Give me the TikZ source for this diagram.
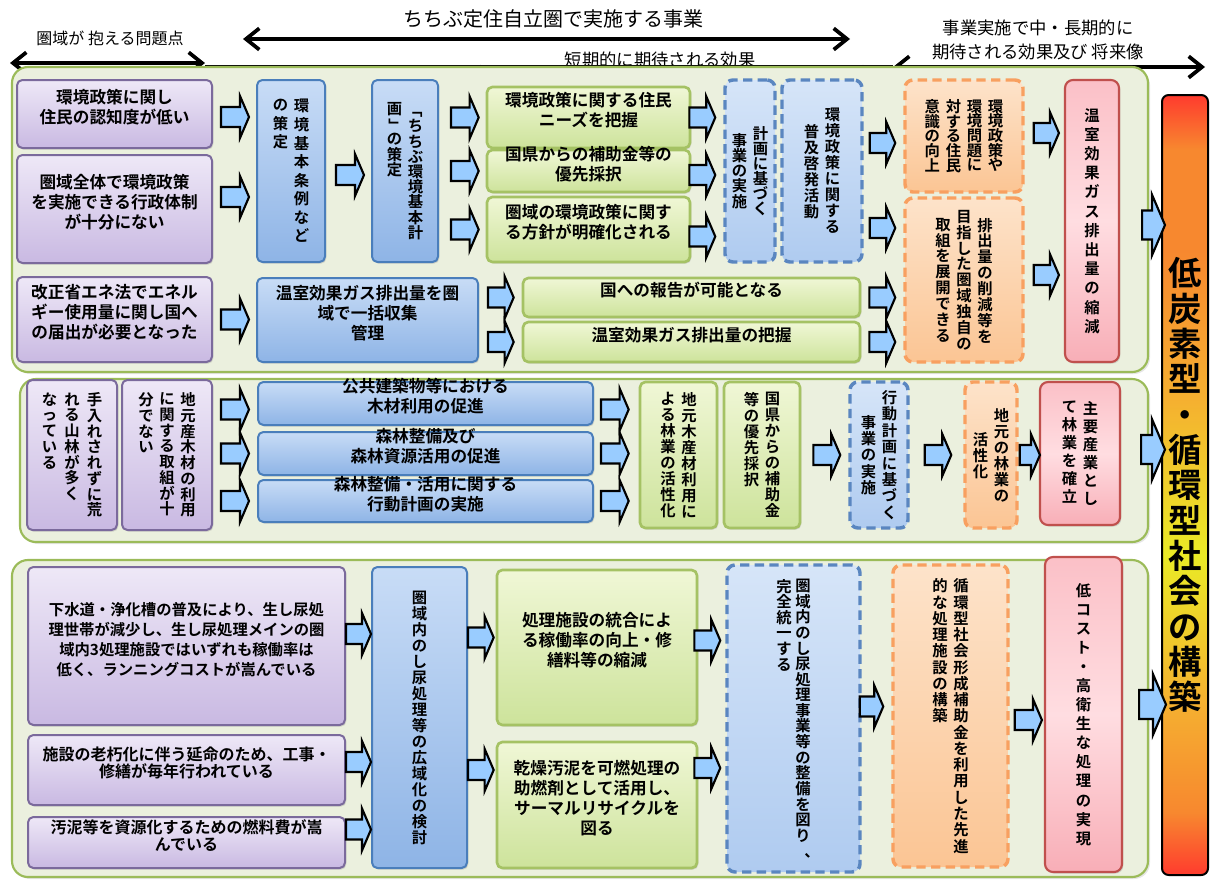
\documentclass[tikz,border=0pt]{standalone}
\usepackage{fontspec}
\usepackage{graphicx}
\setmainfont{Noto Sans CJK JP}[BoldFont={* Bold}]
\usetikzlibrary{arrows.meta,calc,fit,shadows}

\definecolor{panelfill}{HTML}{EBF0DE}\definecolor{panelline}{HTML}{9BBB59}
\definecolor{ptop}{HTML}{EEE8F7}\definecolor{pbot}{HTML}{C9B9E2}\definecolor{pline}{HTML}{7B6A9C}
\definecolor{btop}{HTML}{C8DCF6}\definecolor{bbot}{HTML}{8EB4E6}\definecolor{bline}{HTML}{4A7EBB}
\definecolor{gtop}{HTML}{F0F7D6}\definecolor{gbot}{HTML}{CDE39B}\definecolor{gline}{HTML}{A5C264}
\definecolor{dtop}{HTML}{D6E5F8}\definecolor{dbot}{HTML}{AFCBF0}\definecolor{dline}{HTML}{5A86C0}
\definecolor{otop}{HTML}{FDE3CA}\definecolor{obot}{HTML}{FBC594}\definecolor{oline}{HTML}{F8A060}
\definecolor{rtop}{HTML}{FBC0C7}\definecolor{rmid}{HTML}{FFDDE1}\definecolor{rbot}{HTML}{F8AEB7}\definecolor{rline}{HTML}{C0504D}
\definecolor{arrowblue}{HTML}{99CCFF}
\definecolor{barred}{HTML}{FF3B2E}\definecolor{barorg}{HTML}{F7882F}
\definecolor{barlt}{HTML}{F5B030}\definecolor{baryel}{HTML}{EAEA26}
\pgfdeclareverticalshading{barshade}{100bp}{color(0bp)=(barred); color(25bp)=(barred);
  color(29bp)=(barorg); color(36bp)=(barlt); color(45.5bp)=(baryel); color(55.5bp)=(barlt);
  color(65bp)=(barorg); color(71.5bp)=(barorg); color(75bp)=(barred); color(100bp)=(barred)}

\ExplSyntaxOn
\seq_new:N \l__tate_in_seq
\seq_new:N \l__tate_out_seq
\int_new:N \l__tate_max_int
\cs_new_protected:Npn \__tate_char:n #1
 {
  \str_case:nnF {#1}
   {
    {「} { \hbox_to_wd:nn {1em} { \hss \rotatebox[origin=c]{-90}{「} \hss } }
    {」} { \hbox_to_wd:nn {1em} { \hss \rotatebox[origin=c]{-90}{」} \hss } }
    {、} { \hbox_to_wd:nn {1em} { \hss \rotatebox[origin=c]{180}{、} \hss } }
   }
   { \hbox_to_wd:nn {1em} { \hss #1 \hss } }
 }
\cs_new_protected:Npn \__tate_col:nn #1#2
 {
  \vtop
   {
    \skip_set:Nn \baselineskip { \tatepitch }
    \dim_set:Nn \lineskiplimit { -\c_max_dim }
    \str_if_eq:nnTF {#1} {c}
     { \kern \dim_eval:n { \tatepitch * ( \l__tate_max_int - \tl_count:n {#2} ) / 2 } }
     { \kern 0pt }
    \tl_map_inline:nn {#2} { \__tate_char:n {##1} }
   }
 }
\NewDocumentCommand \vtate { O{t} m }
 {
  \seq_set_from_clist:Nn \l__tate_in_seq {#2}
  \seq_clear:N \l__tate_out_seq
  \int_zero:N \l__tate_max_int
  \seq_map_inline:Nn \l__tate_in_seq
   {
    \int_set:Nn \l__tate_max_int { \int_max:nn { \l__tate_max_int } { \tl_count:n {##1} } }
    \seq_put_left:Nn \l__tate_out_seq { \__tate_col:nn {#1} {##1} }
   }
  \hbox:n { \seq_use:Nn \l__tate_out_seq { \hskip \tategap \relax } }
 }
\ExplSyntaxOff
\newcommand\tatepitch{12pt}
\newcommand\tategap{4.3pt}

\tikzset{
  cell/.style={rounded corners=4pt,inner sep=0pt,align=center,font=\bfseries\fontsize{12.5}{15}\selectfont},
  vt/.style={font=\bfseries\fontsize{11.5}{14}\selectfont},
  vpitch/.code={\def\tatepitch{#1}},
  vgap/.code={\def\tategap{#1}},
  soft/.style={drop shadow={opacity=.28,shadow xshift=1pt,shadow yshift=-1.2pt}},
  pbox/.style={cell,soft,draw=pline,line width=1.5pt,top color=ptop,bottom color=pbot},
  bbox/.style={cell,soft,draw=bline,line width=1.5pt,top color=btop,bottom color=bbot},
  gbox/.style={cell,soft,draw=gline,line width=2pt,top color=gtop,bottom color=gbot},
  dbox/.style={cell,vt,draw=dline,line width=2.6pt,dash pattern=on 7pt off 4pt,top color=dtop,bottom color=dbot,rounded corners=6pt},
  obox/.style={cell,vt,draw=oline,line width=2.6pt,dash pattern=on 7pt off 4pt,top color=otop,bottom color=obot,rounded corners=6pt},
  rbox/.style={cell,vt,soft,draw=rline,line width=1.6pt,top color=rtop,bottom color=rbot,middle color=rmid,rounded corners=6pt},
  barbox/.style={cell,draw=black,line width=1.5pt,shading=barshade,rounded corners=5pt,font=\bfseries\fontsize{25}{30}\selectfont,vpitch=26.5pt},
  panel/.style={draw=panelline,line width=1.6pt,fill=panelfill,rounded corners=12pt,drop shadow={opacity=.2,shadow xshift=1.5pt,shadow yshift=-1.5pt}},
  barrow/.style={draw=black,fill=arrowblue,line width=1.6pt,line join=miter},
  hdr/.style={line width=2.8pt,{Straight Barb[length=10pt,width=16pt]}-{Straight Barb[length=10pt,width=16pt]}},
}
% block arrow: tail, tip (y taken from the tail)
\newcommand\barr[3][1]{\path[barrow] let \p1=(#2), \p2=(#3) in
  (\x1,{\y1+7.5pt*#1}) -- ({\x2-6.75pt*#1},{\y1+7.5pt*#1}) -- ({\x2-6.75pt*#1},{\y1+15.75pt*#1}) -- (\x2,\y1)
  -- ({\x2-6.75pt*#1},{\y1-15.75pt*#1}) -- ({\x2-6.75pt*#1},{\y1-7.5pt*#1}) -- (\x1,{\y1-7.5pt*#1}) -- cycle;}

\begin{document}
\begin{tikzpicture}[x=0.75pt,y=-0.75pt,line join=round]
\useasboundingbox (0,0) rectangle (1210,879);
% headings
\node[font=\fontsize{12}{14}\selectfont] (tProb) at (110,38) {圏域が 抱える問題点};
\draw[hdr] (10,63) coordinate (probL) -- (205,63) coordinate (probR);
\node[font=\fontsize{15}{18}\selectfont] (tJig) at (553,19) {ちちぶ定住自立圏で実施する事業};
\draw[hdr] (243,39) coordinate (jigL) -- (850,39) coordinate (jigR);
\draw[line width=1.5pt] (probR|-0,66) -- (893,66);
\node[font=\fontsize{13}{15}\selectfont] (tShort) at (660,60) {短期的に期待される効果};
\draw[hdr] (465,77) coordinate (shortL) -- (878,77) coordinate (shortR);
\node[font=\fontsize{13}{17.5}\selectfont,align=center] (tLong) at (1038,40) {事業実施で中・長期的に\\期待される効果及び 将来像};
\draw[hdr] (893,67) coordinate (longL) -- (1205,67) coordinate (longR);

\draw[panel] (12,67) rectangle (1148,372);
\draw[panel] (20,379) rectangle (1148,542);
\draw[panel] (12,560) rectangle (1148,877);

% panel 1
\node[pbox,fit={(17,80)(212,148)}] (P1) {環境政策に関し\\住民の認知度が低い};
\node[pbox,fit={(17,155)(212,263)}] (P2) {圏域全体で環境政策\\を実施できる行政体制\\が十分にない};
\node[pbox,fit={(17,277)(212,362)}] (P3) {改正省エネ法でエネル\\ギー使用量に関し国へ\\の届出が必要となった};
\node[bbox,vt,vpitch=13.9pt,fit={(257,80)(325,262)}] (B1) {\vtate{環境基本条例など,の策定}};
\node[bbox,vt,vpitch=11.4pt,fit={(372,80)(438,262)}] (B2) {\vtate{「ちちぶ環境基本計,画」の策定}};
\node[bbox,fit={(257,278)(478,362)}] (B3) {温室効果ガス排出量を圏\\域で一括収集\\管理};
\node[gbox,fit={(487,87)(690,148)}] (G1) {環境政策に関する住民\\ニーズを把握};
\node[gbox,fit={(487,150)(690,192)}] (G2) {国県からの補助金等の\\優先採択};
\node[gbox,fit={(487,197)(690,262)}] (G3) {圏域の環境政策に関す\\る方針が明確化される};
\node[dbox,vpitch=11.3pt,fit={(725,80)(775,262)}] (D1) {\vtate[c]{計画に基づく,事業の実施}};
\node[dbox,fit={(782,80)(862,262)}] (D2) {\vtate[c]{環境政策に関する,普及啓発活動}};
\node[gbox,fit={(523,278)(860,317)}] (G4) {国への報告が可能となる};
\node[gbox,fit={(523,322)(860,362)}] (G5) {温室効果ガス排出量の把握};
\node[obox,vpitch=11pt,fit={(905,80)(1023,192)}] (O1) {\vtate[c]{環境政策や,環境問題に,対する住民,意識の向上}};
\node[obox,vpitch=11.9pt,fit={(905,198)(1023,362)}] (O2) {\vtate[c]{排出量の削減等を,目指した圏域独自の,取組を展開できる}};
\node[rbox,vpitch=14.4pt,fit={(1065,80)(1119,362)}] (R1) {\vtate{温室効果ガス排出量の縮減}};
\node[barbox,fit={(1162,95)(1208,875)}] (Bar) {\vtate{低炭素型・循環型社会の構築}};

\barr{$(P1.east)+(8,3)$}{$(B1.west)+(-7,0)$}
\barr{$(P2.east)+(8,-12)$}{$(B1.west)+(-7,0)$}
\barr{$(P3.east)+(8,0)$}{$(B3.west)+(-7,0)$}
\barr{$(B1.east)+(10,4)$}{$(B2.west)+(-7,0)$}
\foreach \g in {G1,G2,G3}{\barr{$(B2.east|-\g.west)+(12,0)$}{$(\g.west)+(-7,0)$}}
\foreach \g/\dy in {G1/0,G2/4,G3/7}{\barr{$(\g.east)+(-2,\dy)$}{$(D1.west)+(-8,0)$}}
\foreach \g in {G4,G5}{\barr{$(B3.east|-\g.west)+(9,0)$}{$(\g.west)+(-8,0)$}}
\foreach \g in {G4,G5}{\barr{$(\g.east)+(8,0)$}{$(O2.west)+(-8,0)$}}
\barr{$(D2.east)+(6,-28)$}{$(O1.west)+(-8,0)$}
\barr{$(D2.east)+(6,57)$}{$(O2.west)+(-8,0)$}
\barr{$(O1.east)+(9,-3)$}{$(R1.west)+(-5,0)$}
\barr{$(O2.east)+(9,-5)$}{$(R1.west)+(-5,0)$}
\barr[1.45]{$(R1.east)+(22,4)$}{$(Bar.west)+(4,0)$}

% panel 2
\node[pbox,vt,vpitch=11.8pt,vgap=5.4pt,fit={(27,380)(117,530)}] (Q1) {\vtate{手入れされずに荒,れる山林が多く,なっている}};
\node[pbox,vt,vpitch=11.8pt,fit={(122,380)(212,530)}] (Q2) {\vtate{地元産木材の利用,に関する取組が十,分でない}};
\node[bbox,fit={(258,382)(593,425)}] (B4) {公共建築物等における\\木材利用の促進};
\node[bbox,fit={(258,432)(593,475)}] (B5) {森林整備及び\\森林資源活用の促進};
\node[bbox,fit={(258,480)(593,522)}] (B6) {森林整備・活用に関する\\行動計画の実施};
\node[gbox,vt,fit={(640,382)(717,528)}] (G6) {\vtate{地元木産材利用に,よる林業の活性化}};
\node[gbox,vt,fit={(724,382)(800,528)}] (G7) {\vtate{国県からの補助金,等の優先採択}};
\node[dbox,vpitch=12.3pt,fit={(850,382)(908,528)}] (D3) {\vtate[c]{行動計画に基づく,事業の実施}};
\node[obox,fit={(965,382)(1017,528)}] (O3) {\vtate[c]{地元の林業の,活性化}};
\node[rbox,vpitch=13.5pt,fit={(1040,382)(1120,525)}] (R2) {\vtate{主要産業とし,て林業を確立}};

\foreach \b/\dy in {B4/6,B5/0,B6/0}{\barr{$(Q2.east|-\b.west)+(8,\dy)$}{$(\b.west)+(-8,0)$}}
\foreach \b/\dy in {B4/6,B5/0,B6/0}{\barr{$(\b.east)+(7,\dy)$}{$(G6.west)+(-10,0)$}}
\barr{$(G7.east)+(12,0)$}{$(D3.west)+(-8,0)$}
\barr{$(D3.east)+(15,0)$}{$(O3.west)+(-12,0)$}
\barr{$(O3.east)+(1,0)$}{$(R2.west)+(1,0)$}
\barr[1.45]{$(R2.east)+(20,-4)$}{$(Bar.west)+(4,0)$}

% panel 3
\node[pbox,align=left,font=\bfseries\fontsize{11.5}{15}\selectfont,fit={(28,567)(345,725)}] (Q3) {下水道・浄化槽の普及により、生し尿処\\理世帯が減少し、生し尿処理メインの圏\\域内3処理施設ではいずれも稼働率は\\低く、ランニングコストが嵩んでいる};
\node[pbox,align=left,font=\bfseries\fontsize{12}{13}\selectfont,fit={(28,735)(345,805)}] (Q4) {施設の老朽化に伴う延命のため、工事・\\修繕が毎年行われている};
\node[pbox,align=left,font=\bfseries\fontsize{12}{13}\selectfont,fit={(28,817)(345,868)}] (Q5) {汚泥等を資源化するための燃料費が嵩\\んでいる};
\node[bbox,vt,fit={(372,567)(467,868)}] (B7) {\vtate{圏域内のし尿処理等の広域化の検討}};
\node[gbox,align=left,fit={(497,570)(697,725)}] (G8) {処理施設の統合によ\\る稼働率の向上・修\\繕料等の縮減};
\node[gbox,align=left,fit={(497,742)(697,868)}] (G9) {乾燥汚泥を可燃処理の\\助燃剤として活用し、\\サーマルリサイクルを\\図る};
\node[dbox,vpitch=11.7pt,vgap=2.8pt,fit={(727,565)(860,872)}] (D4) {\vtate{圏域内のし尿処理事業等の整備を図り、,完全統一する}};
\node[obox,vpitch=12.2pt,fit={(893,565)(1008,867)}] (O4) {\vtate{循環型社会形成補助金を利用した先進,的な処理施設の構築}};
\node[rbox,vpitch=14.3pt,fit={(1045,557)(1122,872)}] (R3) {\vtate{低コスト・高衛生な処理の実現}};

\barr{$(Q3.east)+(0,-12)$}{B7.west}
\barr{$(Q4.east)+(0,-8)$}{B7.west}
\barr{$(Q5.east)+(0,-13)$}{B7.west}
\barr{$(B7.east|-G8.west)+(0,-10)$}{$(G8.west)+(-2,0)$}
\barr{$(B7.east|-G9.west)+(0,-35)$}{$(G9.west)+(-2,0)$}
\barr{$(G8.east)+(-4,-7)$}{$(D4.west)+(-5,0)$}
\barr{$(G9.east)+(-4,-37)$}{$(D4.west)+(-5,0)$}
\barr{$(D4.east)+(-2,-12)$}{$(O4.west)+(-8,0)$}
\barr{$(O4.east)+(5,4)$}{$(R3.west)+(-2,0)$}
\barr[1.45]{$(R3.east)+(16,-10)$}{$(Bar.west)+(5,0)$}
\end{tikzpicture}
\end{document}
